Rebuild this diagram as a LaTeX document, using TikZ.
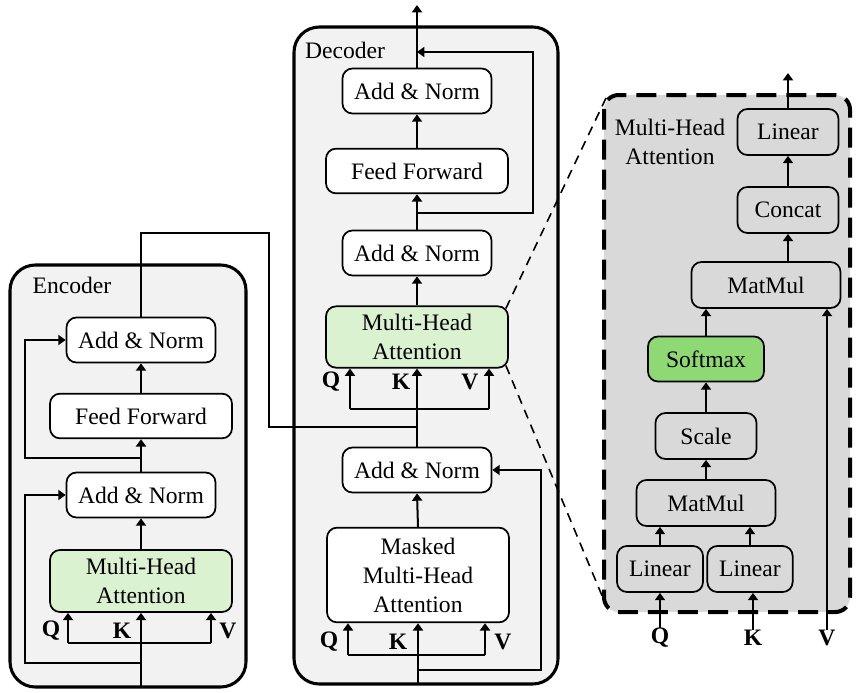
\documentclass[tikz,border=0pt]{standalone}
\usepackage{fontspec}
\setmainfont{Liberation Serif}
\usetikzlibrary{arrows.meta,calc}
\definecolor{outerfill}{HTML}{F2F2F2}
\definecolor{lightgreen}{HTML}{DAF2D0}
\definecolor{softgreen}{HTML}{8ED973}
\definecolor{detailfill}{HTML}{D9D9D9}
\begin{document}
\begin{tikzpicture}[x=0.75pt,y=-0.75pt,
  txt/.style={font=\fontsize{17.7}{21.75}\selectfont, align=center, inner sep=0pt},
  blk/.style={txt, draw, line width=1.3pt, rounded corners=7.5pt, fill=white},
  outerbox/.style={draw, line width=2.3pt, rounded corners=19pt, fill=outerfill},
  conn/.style={line width=1.5pt},
  arr/.style={line width=1.5pt, -{Triangle[width=7.5pt,length=5.5pt]}},
  lbl/.style={font=\fontsize{17.7}{21.75}\selectfont\bfseries, inner sep=0pt},
  wA/.style={minimum width=111.75pt, minimum height=33.75pt},
  wF/.style={minimum width=136.5pt, minimum height=33.5pt},
]
\useasboundingbox (0,0) rectangle (858,693);

% ---------- outer boxes ----------
\draw[outerbox] (10,265) rectangle (246,687);
\draw[outerbox] (294,27) rectangle (558,684);
\draw[line width=3pt, dash pattern=on 15pt off 7.5pt, rounded corners=11pt, fill=detailfill] (604,95) rectangle (850,612);

\node[txt] (enclbl) at (72,285) {Encoder};
\node[txt] (declbl) at (345,50) {Decoder};
\node[txt] (mhalbl) at (670,142) {Multi-Head\\Attention};

% ---------- encoder ----------
\node[blk, wA] (eAN1) at (141,340) {Add \& Norm};
\node[blk, wF] (eFF) at (141,416) {Feed Forward};
\node[blk, wA] (eAN2) at (141,495) {Add \& Norm};
\node[blk, fill=lightgreen, minimum width=136.5pt, minimum height=46.5pt] (eMHA) at (141,581) {Multi-Head\\Attention};
\node[lbl] (eQ) at (51,631) {Q};
\node[lbl] (eK) at (122,631) {K};
\node[lbl] (eV) at (228,631) {V};

\coordinate (ein) at (141,687);
\coordinate (ebar) at (141,643);
\coordinate (eQb) at (68,643);
\coordinate (eVb) at (211,643);
\coordinate (er1) at (141,663);
\coordinate (er2) at (141,458);
\draw[arr] (ein) -- (eMHA.south);
\draw[conn] (eQb) -- (eVb);
\draw[arr] (eQb) -- (eQb |- eMHA.south);
\draw[arr] (eVb) -- (eVb |- eMHA.south);
\draw[arr] (er1) -- ++(-116,0) |- (eAN2.west);
\draw[arr] (eMHA.north) -- (eAN2.south);
\draw[arr] (eAN2.north) -- (eFF.south);
\draw[arr] (er2) -- ++(-116,0) |- (eAN1.west);
\draw[arr] (eFF.north) -- (eAN1.south);

% ---------- decoder ----------
\node[blk, wA] (dAN3) at (417,91) {Add \& Norm};
\node[blk, wF] (dFF) at (417,171) {Feed Forward};
\node[blk, wA] (dAN2) at (417,253) {Add \& Norm};
\node[blk, fill=lightgreen, minimum width=136.5pt, minimum height=46pt] (dMHA) at (417,337) {Multi-Head\\Attention};
\node[blk, wA] (dAN1) at (417,470) {Add \& Norm};
\node[blk, minimum width=136.5pt, minimum height=71pt] (dMMHA) at (418,575) {Masked\\Multi-Head\\Attention};

\node[lbl] (dQ1) at (331,382) {Q};
\node[lbl] (dK1) at (401,382) {K};
\node[lbl] (dV1) at (470,382) {V};
\node[lbl] (dQ0) at (329,642) {Q};
\node[lbl] (dK0) at (398,642) {K};
\node[lbl] (dV0) at (503,642) {V};

\coordinate (din) at (418,684);
\coordinate (dQb0) at (348,655);
\coordinate (dVb0) at (485,655);
\coordinate (dr0) at (418,670);
\draw[arr] (din) -- (dMMHA.south);
\draw[conn] (dQb0) -- (dVb0);
\draw[arr] (dQb0) -- (dQb0 |- dMMHA.south);
\draw[arr] (dVb0) -- (dVb0 |- dMMHA.south);
\draw[arr] (dr0) -- ++(123,0) |- (dAN1.east);
\draw[arr] (dMMHA.north) -- (dAN1.south);

\coordinate (dbar) at (417,409);
\coordinate (dQb1) at (350,409);
\coordinate (dVb1) at (489,409);
\draw[arr] (dAN1.north) -- (dMHA.south);
\draw[conn] (dQb1) -- (dVb1);
\draw[arr] (dQb1) -- (dQb1 |- dMHA.south);
\draw[arr] (dVb1) -- (dVb1 |- dMHA.south);
\draw[arr] (dMHA.north) -- (dAN2.south);
\draw[arr] (dAN2.north) -- (dFF.south);
\coordinate (dr2) at (417,213);
\coordinate (dr2end) at (417,52);
\draw[arr] (dr2) -- ++(116,0) |- (dr2end);
\draw[arr] (dFF.north) -- (dAN3.south);
\coordinate (dout) at (417,5);
\draw[arr] (dAN3.north) -- (dout);

% encoder -> decoder
\coordinate (ejoin) at (417,427);
\draw[conn] (eAN1.north) -- (141,233) -| (269,427) -- (ejoin);

% ---------- detail ----------
\tikzset{dblk/.style={blk, fill=detailfill, minimum height=34.5pt}}
\node[dblk, minimum width=75.75pt] (lin3) at (788,132) {Linear};
\node[dblk, minimum width=75.75pt] (concat) at (788,210) {Concat};
\node[dblk, minimum width=111.75pt] (mm2) at (766,285) {MatMul};
\node[dblk, fill=softgreen, minimum width=87pt, minimum height=33.75pt] (soft) at (706,359) {Softmax};
\node[dblk, minimum width=75.75pt] (scale) at (706,436) {Scale};
\node[dblk, minimum width=104.25pt] (mm1) at (706,503) {MatMul};
\node[dblk, minimum width=64.5pt] (linQ) at (660,569) {Linear};
\node[dblk, minimum width=64pt] (linK) at (750,569) {Linear};

\node[lbl] (Qd) at (660,638) {Q};
\node[lbl] (Kd) at (753,638) {K};
\node[lbl] (Vd) at (827,638) {V};

\draw[arr] (Qd.north) -- (linQ.south);
\draw[arr] (Kd.north) -- (Kd.north |- linK.south);
\draw[arr] (Vd.north) -- (Vd.north |- mm2.south);
\draw[arr] (linQ.north) -- (linQ.north |- mm1.south);
\draw[arr] (linK.north) -- (linK.north |- mm1.south);
\draw[arr] (mm1.north) -- (scale.south);
\draw[arr] (scale.north) -- (soft.south);
\draw[arr] (soft.north) -- (soft.north |- mm2.south);
\draw[arr] (concat.south |- mm2.north) -- (concat.south);
\draw[arr] (concat.north) -- (lin3.south);
\coordinate (dtout) at (788,73);
\draw[arr] (lin3.north) -- (dtout);

% zoom lines
\coordinate (zt) at (606,98);
\coordinate (zb) at (603,598);
\draw[line width=1.2pt, dash pattern=on 7pt off 5pt] ($(dMHA.north east)+(-3,3)$) -- (zt);
\draw[line width=1.2pt, dash pattern=on 7pt off 5pt] ($(dMHA.south east)+(-3,-3)$) -- (zb);
\end{tikzpicture}
\end{document}
